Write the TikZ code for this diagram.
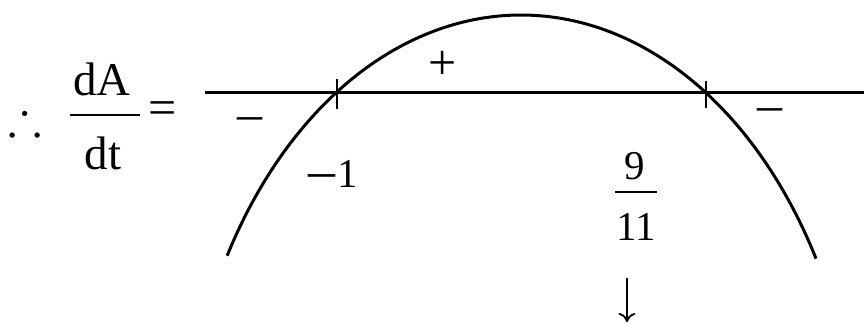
\documentclass[tikz,border=0pt]{standalone}
\usepackage{amssymb}
\usepackage{fontspec}
\setmainfont{Liberation Serif}
\usetikzlibrary{arrows.meta}
\begin{document}
\begin{tikzpicture}[x=1pt,y=-1pt,
  curve/.style={line width=3pt, line cap=butt},
  thin/.style={line width=2.8pt},
  lbl/.style={inner sep=0pt, anchor=base, font=\fontsize{41}{41}\selectfont},
  big/.style={inner sep=0pt, anchor=base, font=\fontsize{47}{47}\selectfont},
  sign/.style={inner sep=0pt, font=\fontsize{50}{50}\selectfont}]
\useasboundingbox[fill=white] (0,0) rectangle (864,323);
% axis
\coordinate (axL) at (205,93);
\coordinate (axR) at (864,93);
\draw[curve] (axL) -- (axR);
% roots ticks
\coordinate (r1) at (337,93);
\coordinate (r2) at (706,93);
\draw[thin] ([yshift=14pt]r1) -- ([yshift=-16pt]r1);
\draw[thin] ([yshift=12pt]r2) -- ([yshift=-15pt]r2);
% downward parabola
\draw[curve] plot[domain=-150.1:-29.5, samples=80, smooth] ({521+339*cos(\x)},{495+480*sin(\x)});
% labels
\node[sign] (thf) at (25,117) {$\therefore$};
\node[big] (num) at (102,96) {dA};
\node[big] (den) at (103,170) {dt};
\coordinate (barL) at (70,115);
\coordinate (barR) at (140,115);
\draw[thin] (barL) -- (barR);
\node[sign] (eq) at (163,113) {=};
\node[sign] (plus) at (443,65) {+};
\node[sign] (mL) at (250,124) {–};
\node[sign] (mR) at (770,115) {–};
\node[lbl] (m1) at (333,188) {{\fontsize{54}{54}\selectfont\raisebox{-1pt}{–}}\kern2pt 1};
\node[lbl] (nine) at (635,180) {9};
\node[lbl] (eleven) at (636,240) {11};
\coordinate (b2L) at (615,192);
\coordinate (b2R) at (657,192);
\draw[thin] (b2L) -- (b2R);
\coordinate (arT) at (627,278);
\coordinate (arB) at (627,322);
\draw[line width=1.8pt, -{To[length=9pt,width=17pt]}] (arT) -- (arB);
\end{tikzpicture}
\end{document}
